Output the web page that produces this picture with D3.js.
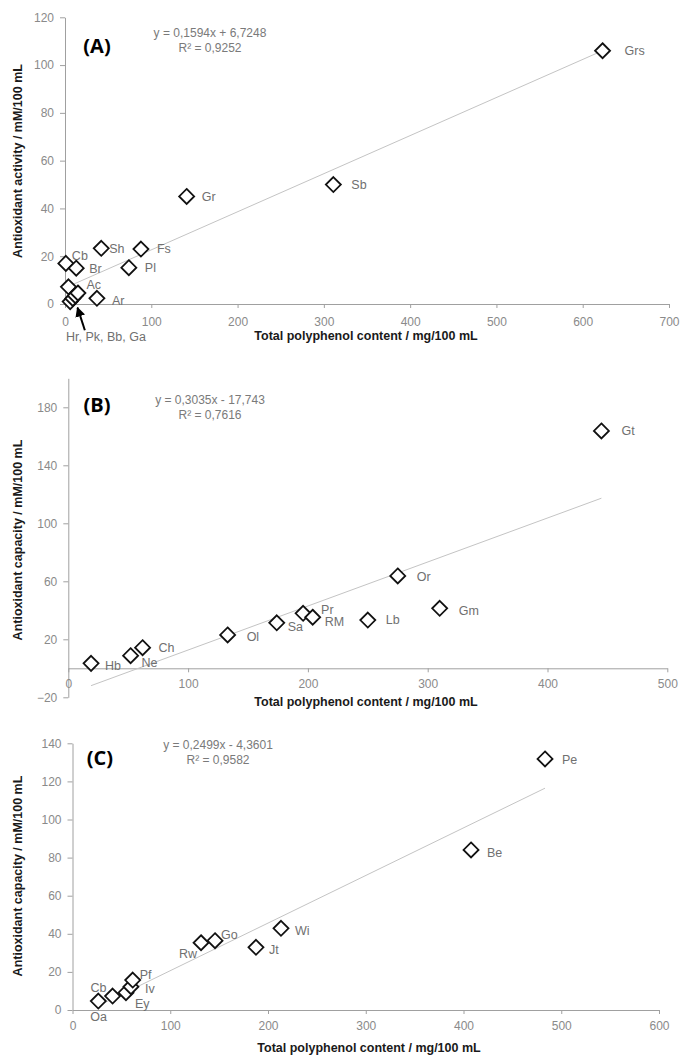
<!DOCTYPE html>
<html><head><meta charset="utf-8">
<script src="https://cdn.jsdelivr.net/npm/d3@7"></script>
<style>
body{margin:0;background:#fff;}
svg{display:block;font-family:"Liberation Sans",Arial,sans-serif;}
</style></head>
<body>
<svg id="chart" width="683" height="1057"></svg>
<script>
// ---------- DATA ----------
const namesA = ["Grs","Sb","Gr","Fs","Sh","Pl","Cb","Br","Ac","Ar","Hr","Pk","Bb","Ga"];
const xA = [623,311,141,88,42,74,1,13,4,37,6,9,12,15];
const yA = [106,50,45,23,23.3,15.2,17,15,7.2,2.4,1,2.3,3.5,4.6];
const eqA = ["y = 0,1594x + 6,7248","R² = 0,9252"];
const slopeA = 0.1594, interceptA = 6.7248;
const xTicksA = [0,100,200,300,400,500,600,700];
const yTicksA = [0,20,40,60,80,100,120];

const namesB = ["Hb","Ne","Ch","Ol","Sa","Pr","RM","Lb","Or","Gm","Gt"];
const xB = [19,52,62,133,174,196,204,250,275,310,445];
const yB = [3.4,8.7,14.2,23,31.4,37.9,35.2,33.3,63.7,41.4,163.7];
const eqB = ["y = 0,3035x - 17,743","R² = 0,7616"];
const slopeB = 0.3035, interceptB = -17.743;
const xTicksB = [0,100,200,300,400,500];
const yTicksB = [-20,20,60,100,140,180];

const namesC = ["Oa","Cb","Ey","Iv","Pf","Rw","Go","Jt","Wi","Be","Pe"];
const xC = [26.4,41,54.7,59.8,61.6,131.5,145.8,187.7,213.3,407.7,483.4];
const yC = [4.7,7.3,9.1,12.2,15.7,35.3,36.4,32.9,42.9,84,131.8];
const eqC = ["y = 0,2499x - 4,3601","R² = 0,9582"];
const slopeC = 0.2499, interceptC = -4.3601;
const xTicksC = [0,100,200,300,400,500,600];
const yTicksC = [0,20,40,60,80,100,120,140];

const xTitle = "Total polyphenol content / mg/100 mL";
const yTitleA = "Antioxidant activity / mM/100 mL";
const yTitleBC = "Antioxidant capacity / mM/100 mL";
const clusterLabel = "Hr, Pk, Bb, Ga";

// ---------- LAYOUT (label offsets, px) ----------
const labelOffA = {Grs:[22,0],Sb:[18,0],Gr:[15,0],Fs:[16,0],Sh:[8,0],Pl:[16,0],Cb:[6,-8],Br:[13,0],Ac:[18,-2],Ar:[15,2]};
const labelOffB = {Hb:[14,2],Ne:[11,7],Ch:[16,0],Ol:[19,2],Sa:[11,4],Pr:[18,-4],RM:[12,4],Lb:[18,0],Or:[19,1],Gm:[19,2],Gt:[20,0]};
const labelOffC = {Oa:[-8,16],Cb:[-22,-8],Ey:[9,11],Iv:[14,2],Pf:[7,-5],Rw:[-4,11,"end"],Go:[6,-6],Jt:[13,2],Wi:[14,2],Be:[16,3],Pe:[17,1]};

const svg = d3.select("#chart");
const defs = svg.append("defs");
defs.append("marker").attr("id","arr").attr("viewBox","0 0 10 10").attr("refX",9).attr("refY",5)
  .attr("markerWidth",5).attr("markerHeight",5).attr("orient","auto")
  .append("path").attr("d","M0,0 L10,5 L0,10 z").attr("fill","#000");

function panel(cfg){
  const x = d3.scaleLinear().domain(cfg.xDom).range(cfg.xRange);
  const y = d3.scaleLinear().domain(cfg.yDom).range(cfg.yRange);
  const g = svg.append("g");
  const ya = g.append("g").attr("transform",`translate(${x(0)},0)`)
    .call(d3.axisLeft(y).tickValues(cfg.yTicks).tickSize(5).tickSizeOuter(0).tickPadding(6).tickFormat(d3.format("d")));
  const xa = g.append("g").attr("transform",`translate(0,${y(0)})`)
    .call(d3.axisBottom(x).tickValues(cfg.xTicks).tickSize(4).tickSizeOuter(0).tickPadding(cfg.xPad).tickFormat(d3.format("d")));
  [ya,xa].forEach(a=>{
    a.select(".domain").attr("stroke","#a0a0a0");
    a.selectAll(".tick line").attr("stroke","#a0a0a0");
    a.selectAll(".tick text").attr("fill","#8a8a8a").style("font-size","12px").style("font-family","Liberation Sans, Arial, sans-serif");
  });
  const xmin = d3.min(cfg.xs), xmax = d3.max(cfg.xs);
  g.append("line").attr("x1",x(xmin)).attr("y1",y(cfg.slope*xmin+cfg.intercept))
    .attr("x2",x(xmax)).attr("y2",y(cfg.slope*xmax+cfg.intercept))
    .attr("stroke","#c4c4c4").attr("stroke-width",1);
  const pts = cfg.names.map((n,i)=>({n, x:cfg.xs[i], y:cfg.ys[i]}));
  const r = 7.5;
  g.selectAll("path.pt").data(pts).enter().append("path")
    .attr("d",d=>{const px=x(d.x), py=y(d.y); return `M${px},${py-r}L${px+r},${py}L${px},${py+r}L${px-r},${py}Z`;})
    .attr("fill","#fff").attr("stroke","#111").attr("stroke-width",1.8);
  g.selectAll("text.lbl").data(pts.filter(d=>cfg.off[d.n])).enter().append("text")
    .attr("x",d=>x(d.x)+cfg.off[d.n][0]).attr("y",d=>y(d.y)+cfg.off[d.n][1])
    .attr("dy","0.35em").attr("text-anchor",d=>cfg.off[d.n][2]||"start")
    .attr("fill","#707070").style("font-size","12.5px").text(d=>d.n);
  g.append("text").attr("x",cfg.letterPos[0]).attr("y",cfg.letterPos[1]).attr("text-anchor","middle")
    .style("font-size","20px").style("font-weight","bold").attr("fill","#000")
    .style("font-family","Open Sans, Liberation Sans, sans-serif").text(cfg.letter);
  g.append("text").attr("x",cfg.eqPos[0]).attr("y",cfg.eqPos[1]).attr("text-anchor","middle")
    .attr("fill","#7a7a7a").style("font-size","12px").text(cfg.eq[0]);
  g.append("text").attr("x",cfg.eqPos[0]).attr("y",cfg.eqPos[1]+15).attr("text-anchor","middle")
    .attr("fill","#7a7a7a").style("font-size","12px").text(cfg.eq[1]);
  g.append("text").attr("x",cfg.xTitlePos[0]).attr("y",cfg.xTitlePos[1]).attr("text-anchor","middle")
    .attr("fill","#1a1a1a").style("font-size","12.5px").style("font-weight","bold").text(xTitle);
  g.append("text").attr("transform",`translate(${cfg.yTitlePos[0]},${cfg.yTitlePos[1]}) rotate(-90)`)
    .attr("text-anchor","middle").attr("fill","#1a1a1a").style("font-size","12.5px").style("font-weight","bold").text(cfg.yTitle);
  return {x,y,g};
}

const pA = panel({xDom:[0,700],xRange:[65,669],yDom:[0,120],yRange:[304,17.3],xTicks:xTicksA,yTicks:yTicksA,xPad:9,
  names:namesA,xs:xA,ys:yA,slope:slopeA,intercept:interceptA,off:labelOffA,letter:"(A)",letterPos:[97,53],
  eq:eqA,eqPos:[210,37],xTitlePos:[366,340],yTitlePos:[22,161],yTitle:yTitleA});
pA.g.append("line").attr("x1",pA.x(23)).attr("y1",pA.y(-11)).attr("x2",pA.x(14.5)).attr("y2",pA.y(-1.5))
  .attr("stroke","#000").attr("stroke-width",2).attr("marker-end","url(#arr)");
pA.g.append("text").attr("x",66).attr("y",341).attr("fill","#707070").style("font-size","12.5px").text(clusterLabel);

panel({xDom:[0,500],xRange:[68.3,667.3],yDom:[-20,200],yRange:[697.3,378.3],xTicks:xTicksB,yTicks:yTicksB,xPad:7,
  names:namesB,xs:xB,ys:yB,slope:slopeB,intercept:interceptB,off:labelOffB,letter:"(B)",letterPos:[97,412],
  eq:eqB,eqPos:[210,404],xTitlePos:[366,706],yTitlePos:[22,540],yTitle:yTitleBC});

panel({xDom:[0,600],xRange:[72.5,659],yDom:[0,140],yRange:[1010,743.3],xTicks:xTicksC,yTicks:yTicksC,xPad:7,
  names:namesC,xs:xC,ys:yC,slope:slopeC,intercept:interceptC,off:labelOffC,letter:"(C)",letterPos:[100,765],
  eq:eqC,eqPos:[218,749],xTitlePos:[369,1052],yTitlePos:[22,876],yTitle:yTitleBC});
</script>
</body></html>
